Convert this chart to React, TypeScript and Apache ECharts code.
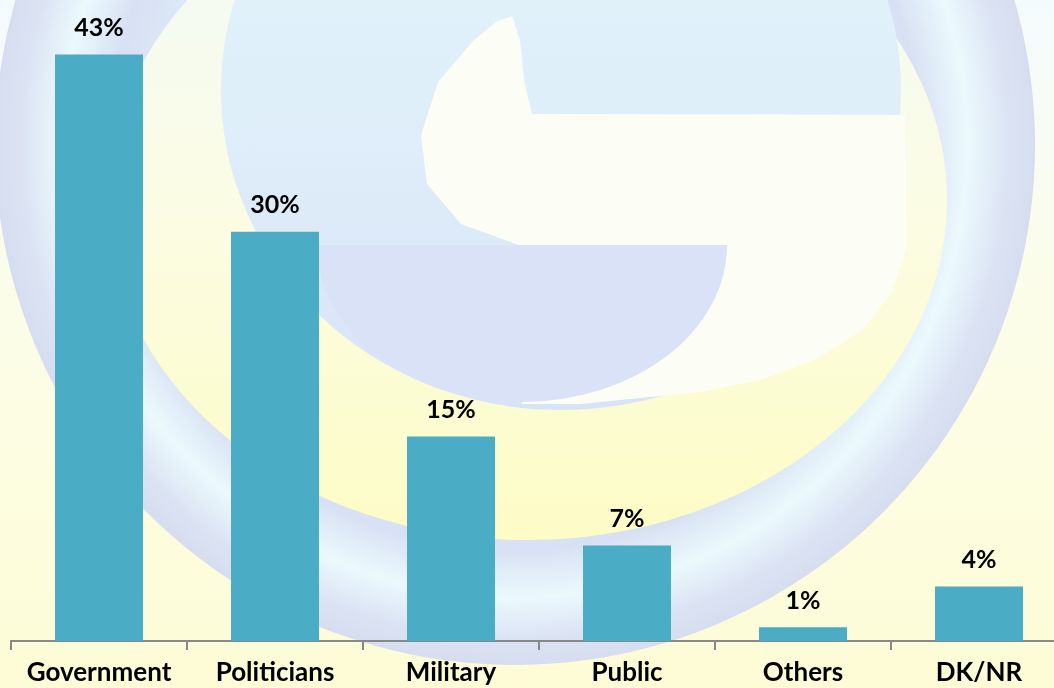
import React, { useEffect, useRef } from "react";
import * as echarts from "echarts";

const categories = ["Government", "Politicians", "Military", "Public", "Others", "DK/NR"];
const values = [43, 30, 15, 7, 1, 4];
const yMin = 0;
const yMax = 47;

const BAR_COLOR = "#4BACC6";
const FONT = "Lato, 'Open Sans', sans-serif";

function watermark() {
  const whiteG: number[][] = [
    [496, 22], [512, 16], [520, 40], [524, 80], [532, 114], [905, 115], [906, 250],
    [892, 292], [862, 330], [815, 360], [760, 380], [700, 392], [640, 398], [580, 404],
    [522, 404], [519, 245], [461, 224], [427, 184], [421, 135], [438, 82], [473, 41],
  ];
  return [
    {
      type: "rect",
      z: 0,
      shape: { x: 0, y: 0, width: 1080, height: 688 },
      style: {
        fill: {
          type: "linear", x: 0, y: 0, x2: 0, y2: 1,
          colorStops: [
            { offset: 0, color: "#f4fbfd" },
            { offset: 0.45, color: "#fcfde8" },
            { offset: 1, color: "#fdfcd6" },
          ],
        },
      },
      silent: true,
    },
    {
      type: "circle",
      z: 0,
      shape: { cx: 515, cy: 145, r: 520 },
      style: {
        fill: {
          type: "radial", x: 0.5, y: 0.5, r: 0.5,
          colorStops: [
            { offset: 0, color: "#e0eff9" },
            { offset: 0.7, color: "#dbe6f6" },
            { offset: 0.78, color: "#d8e1f3" },
            { offset: 0.87, color: "#ebf9fd" },
            { offset: 0.95, color: "#dbe3f3" },
            { offset: 1, color: "#d6ddef" },
          ],
        },
      },
      silent: true,
    },
    {
      type: "ellipse",
      z: 0,
      shape: { cx: 527, cy: 200, rx: 420, ry: 340 },
      style: {
        fill: {
          type: "linear", x: 0, y: 0, x2: 0, y2: 1,
          colorStops: [
            { offset: 0, color: "#f1fafb" },
            { offset: 0.5, color: "#fbfce4" },
            { offset: 1, color: "#fdfcc6" },
          ],
        },
      },
      silent: true,
    },
    {
      type: "ellipse",
      z: 0,
      shape: { cx: 561, cy: 90, rx: 340, ry: 320 },
      style: {
        fill: {
          type: "linear", x: 0, y: 0, x2: 0, y2: 1,
          colorStops: [
            { offset: 0, color: "#e4f7fc" },
            { offset: 0.6, color: "#deedf9" },
            { offset: 1, color: "#d9e3f7" },
          ],
        },
      },
      silent: true,
    },
    {
      type: "polygon",
      z: 0,
      shape: { points: whiteG },
      style: { fill: "#fcfef6" },
      silent: true,
    },
    {
      type: "sector",
      z: 0,
      x: 522,
      y: 245,
      scaleY: 157 / 205,
      shape: { cx: 0, cy: 0, r: 205, r0: 0, startAngle: 0, endAngle: Math.PI, clockwise: true },
      style: { fill: "#d9e2f7" },
      silent: true,
    },
  ];
}

export default function App() {
  const ref = useRef<HTMLDivElement>(null);
  useEffect(() => {
    if (!ref.current) return;
    const chart = echarts.init(ref.current, undefined, { renderer: "svg" });
    chart.setOption({
      animation: false,
      graphic: { elements: watermark() },
      grid: { left: 11, right: 13, top: 0, bottom: 47, containLabel: false },
      xAxis: {
        type: "category",
        data: categories,
        z: 5,
        axisLine: { show: true, lineStyle: { color: "#888888", width: 2 } },
        axisTick: { show: true, length: 9, lineStyle: { color: "#888888", width: 2 } },
        axisLabel: {
          interval: 0,
          margin: 17,
          color: "#000000",
          fontFamily: FONT,
          fontWeight: "bold",
          fontSize: 26,
        },
      },
      yAxis: {
        type: "value",
        min: yMin,
        max: yMax,
        show: false,
        splitLine: { show: false },
      },
      series: [
        {
          type: "bar",
          data: values,
          z: 10,
          barWidth: "50%",
          itemStyle: { color: BAR_COLOR },
          label: {
            show: true,
            position: "top",
            distance: 16,
            formatter: "{c}%",
            color: "#000000",
            fontFamily: FONT,
            fontWeight: "bold",
            fontSize: 25,
          },
        },
      ],
    });
    return () => chart.dispose();
  }, []);
  return (
    <div
      style={{
        position: "fixed",
        left: 0,
        top: 0,
        width: 1054,
        height: 688,
        overflow: "hidden",
      }}
    >
      <div ref={ref} style={{ width: 1080, height: 688 }} />
    </div>
  );
}
